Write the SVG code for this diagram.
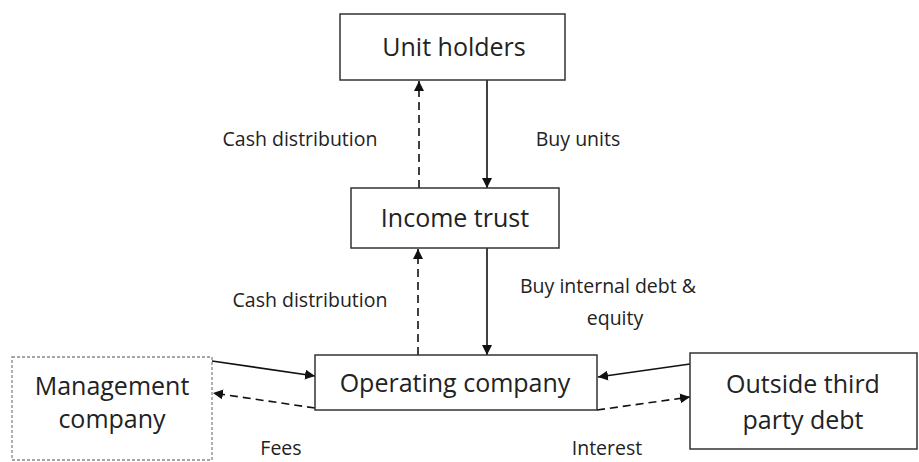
<svg xmlns="http://www.w3.org/2000/svg" width="919" height="462" viewBox="0 0 919 462">
<style>
.box{fill:#fff;stroke:#333;stroke-width:1.5}
.dbox{fill:#fff;stroke:#888;stroke-width:1.3;stroke-dasharray:3,2}
.t{font-family:"Open Sans","Liberation Sans",sans-serif;fill:#222;text-anchor:middle}
.n{font-size:25px}
.l{font-size:19.5px}
.s{stroke:#111;stroke-width:1.6;fill:none}
.d{stroke:#111;stroke-width:1.6;fill:none;stroke-dasharray:8,5}
</style>
<defs>
<marker id="ah" viewBox="0 0 10 10" refX="10" refY="5" markerWidth="10" markerHeight="10" markerUnits="userSpaceOnUse" orient="auto">
<path d="M0,0 L10,5 L0,10 z" fill="#111"/>
</marker>
</defs>
<rect width="919" height="462" fill="#fff"/>
<g id="connectors">
<line class="s" x1="487" y1="80" x2="487" y2="188" marker-end="url(#ah)"/>
<line class="d" x1="419" y1="188" x2="419" y2="81" marker-end="url(#ah)"/>
<line class="s" x1="487" y1="248" x2="487" y2="355" marker-end="url(#ah)"/>
<line class="d" x1="418" y1="355" x2="418" y2="249" marker-end="url(#ah)"/>
<line class="s" x1="212" y1="361" x2="315" y2="376" marker-end="url(#ah)"/>
<line class="d" x1="315" y1="408" x2="213" y2="393" marker-end="url(#ah)"/>
<line class="s" x1="690" y1="364" x2="598" y2="377" marker-end="url(#ah)"/>
<line class="d" x1="597" y1="410" x2="690" y2="397" marker-end="url(#ah)"/>
<text class="t l" x="300" y="146">Cash distribution</text>
<text class="t l" x="578" y="146">Buy units</text>
<text class="t l" x="310" y="307">Cash distribution</text>
<text class="t l" x="608" y="293">Buy internal debt &amp;</text>
<text class="t l" x="615" y="325">equity</text>
<text class="t l" x="281" y="455">Fees</text>
<text class="t l" x="607" y="455">Interest</text>
</g>
<g id="unit-holders">
<rect class="box" x="340" y="14" width="225" height="66"/>
<text class="t n" x="454" y="56">Unit holders</text>
</g>
<g id="income-trust">
<rect class="box" x="351" y="188" width="208" height="60"/>
<text class="t n" x="455" y="227">Income trust</text>
</g>
<g id="operating-company">
<rect class="box" x="315" y="355" width="282" height="55"/>
<text class="t n" x="455" y="392">Operating company</text>
</g>
<g id="management-company">
<rect class="dbox" x="12" y="357" width="200" height="103"/>
<text class="t n" x="112" y="395">Management</text>
<text class="t n" x="112" y="428">company</text>
</g>
<g id="outside-third-party-debt">
<rect class="box" x="690" y="353" width="227" height="96"/>
<text class="t n" x="803" y="393">Outside third</text>
<text class="t n" x="803" y="429">party debt</text>
</g>
</svg>
